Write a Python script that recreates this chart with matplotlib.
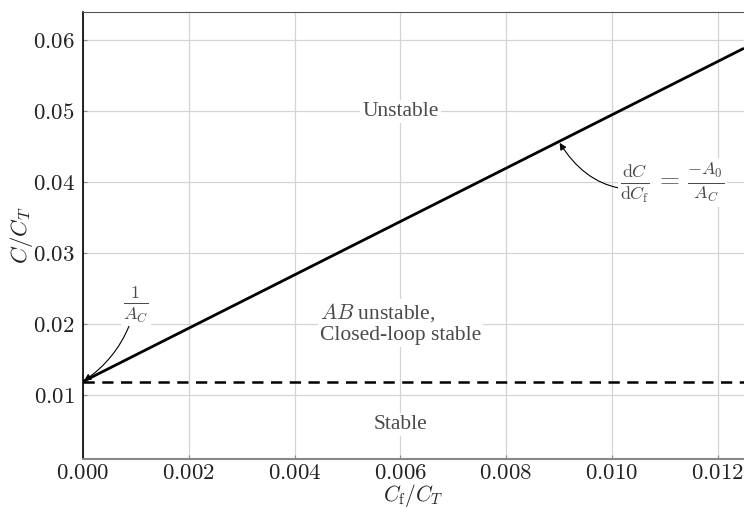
import matplotlib
matplotlib.use("Agg")
import matplotlib.pyplot as plt
from matplotlib.ticker import FuncFormatter

# stability boundary data
cf_ratio = [0.0, 0.0125]
c_unstable_bound = [0.0119, 0.0588]
c_stable_bound = [0.0119, 0.0119]

x_ticks = [0.000, 0.002, 0.004, 0.006, 0.008, 0.010, 0.012]
y_ticks = [0.01, 0.02, 0.03, 0.04, 0.05, 0.06]

plt.rcParams['mathtext.fontset'] = 'cm'
plt.rcParams['font.family'] = ['Liberation Serif', 'DejaVu Serif']

text_col = '#4a4a4a'
fs = 15.5

fig = plt.figure(figsize=(7.44, 5.08), dpi=100)
ax = fig.add_axes([83 / 744, 49 / 508, 1 - 83 / 744, 447 / 508])

ax.plot(cf_ratio, c_unstable_bound, color='black', lw=2.0, solid_capstyle='butt')
ax.plot(cf_ratio, c_stable_bound, color='black', lw=1.8, linestyle=(0, (4.5, 3)))

ax.set_xlim(0, 0.0125)
ax.set_ylim(0.001, 0.0639)
ax.set_xticks(x_ticks)
ax.set_yticks(y_ticks)
ax.xaxis.set_major_formatter(FuncFormatter(lambda v, p: f'${v:.3f}$'))
ax.yaxis.set_major_formatter(FuncFormatter(lambda v, p: f'${v:.2f}$'))
ax.tick_params(direction='in', length=3, color='#888888', labelsize=16.5,
               labelcolor='#222222', pad=6)
ax.tick_params(axis='x', pad=3)
ax.grid(True, color='#d4d4d4', lw=0.9)
ax.set_axisbelow(True)

ax.spines['right'].set_visible(False)
ax.spines['left'].set_color('black')
ax.spines['left'].set_linewidth(1.2)
ax.spines['top'].set_color('#555555')
ax.spines['bottom'].set_color('#888888')
ax.spines['bottom'].set_linewidth(1.5)

ax.set_xlabel(r'$C_\mathrm{f}/C_T$', fontsize=15.5, color='#222222', labelpad=-1.5)
ax.set_ylabel(r'$C/C_T$', fontsize=16.5, color='#222222', labelpad=-2)

box = dict(facecolor='white', edgecolor='none', pad=1.5)

ax.text(0.006, 0.0499, 'Unstable', ha='center', va='center', fontsize=fs,
        color=text_col, bbox=box)
ax.text(0.006, 0.0201, '$AB$ unstable,\nClosed-loop stable', ha='center',
        va='center', multialignment='left', fontsize=fs, color=text_col,
        linespacing=1.15, bbox=box)
ax.text(0.006, 0.0059, 'Stable', ha='center', va='center', fontsize=fs,
        color=text_col, bbox=box)

ax.annotate(r'$\frac{\mathrm{d}C}{\mathrm{d}C_\mathrm{f}}\,=\,\frac{-A_0}{A_C}$',
            xy=(0.009, 0.0119 + 3.75 * 0.009), xytext=(0.01115, 0.0399),
            ha='center', va='center', fontsize=18.5, color=text_col, bbox=box,
            arrowprops=dict(arrowstyle='-|>', color='black', lw=0.8,
                            mutation_scale=10, shrinkA=0, shrinkB=1,
                            connectionstyle='arc3,rad=-0.4'))

ax.annotate(r'$\frac{1}{A_C}$', xy=(0.0, 0.0119), xytext=(0.001, 0.0228),
            ha='center', va='center', fontsize=18.5, color=text_col, bbox=box,
            arrowprops=dict(arrowstyle='-|>', color='black', lw=0.8,
                            mutation_scale=10, shrinkA=0, shrinkB=1,
                            connectionstyle='arc3,rad=-0.2'))

fig.savefig('out.png', dpi=100)
